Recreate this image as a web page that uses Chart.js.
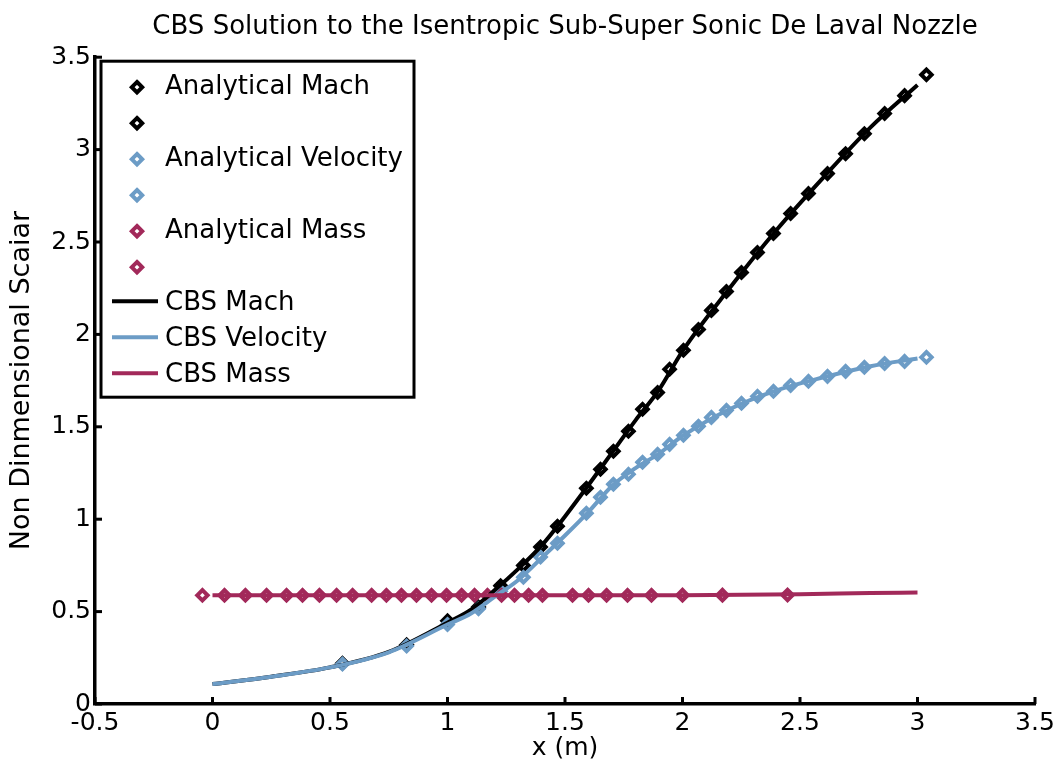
<!DOCTYPE html>
<html>
<head>
<meta charset="utf-8">
<title>CBS Solution - De Laval Nozzle</title>
<script src="https://cdn.jsdelivr.net/npm/chart.js@4.4.1/dist/chart.umd.min.js"></script>
<style>
  html, body { margin: 0; padding: 0; background: #fff; }
  canvas { display: block; }
</style>
</head>
<body>
<canvas id="nozzleChart" width="1063" height="772"></canvas>
<script>
// analytical samples, Mach and velocity share the same stations
const analyticalX = [0.553, 0.826, 1.000, 1.132, 1.226, 1.323, 1.396, 1.468, 1.591, 1.651,
                     1.706, 1.770, 1.830, 1.894, 1.945, 2.004, 2.068, 2.123, 2.187, 2.251,
                     2.319, 2.387, 2.460, 2.536, 2.617, 2.694, 2.774, 2.860, 2.945, 3.038];
const analyticalMach = [0.22, 0.32, 0.45, 0.525, 0.64, 0.75, 0.85, 0.962, 1.168, 1.27,
                        1.368, 1.476, 1.595, 1.686, 1.811, 1.914, 2.027, 2.13, 2.232, 2.335,
                        2.443, 2.546, 2.654, 2.762, 2.87, 2.978, 3.086, 3.195, 3.292, 3.405];
const analyticalVelocity = [0.216, 0.314, 0.43, 0.515, 0.61, 0.686, 0.795, 0.87, 1.032, 1.119,
                            1.189, 1.243, 1.308, 1.351, 1.405, 1.454, 1.503, 1.551, 1.589, 1.627,
                            1.665, 1.692, 1.724, 1.746, 1.773, 1.80, 1.822, 1.843, 1.854, 1.876];

// mass flow samples sit on their own stations
const massX = [-0.043, 0.051, 0.140, 0.230, 0.315, 0.383, 0.455, 0.528, 0.596, 0.677,
               0.740, 0.804, 0.868, 0.932, 0.996, 1.060, 1.115, 1.170, 1.230, 1.285,
               1.345, 1.404, 1.532, 1.600, 1.677, 1.766, 1.868, 2.000, 2.170, 2.447];
const analyticalMass = [0.588, 0.588, 0.588, 0.588, 0.588, 0.588, 0.588, 0.588, 0.588, 0.588,
                        0.588, 0.588, 0.588, 0.588, 0.588, 0.588, 0.588, 0.588, 0.588, 0.588,
                        0.588, 0.588, 0.588, 0.588, 0.588, 0.588, 0.588, 0.589, 0.589, 0.590];

// CBS solver output
const cbsX = [0, 0.25, 0.5, 0.75, 1.0, 1.1, 1.2, 1.3, 1.4, 1.5,
              1.6, 1.7, 1.8, 1.9, 2.0, 2.2, 2.4, 2.6, 2.8, 3.0];
const cbsMach = [0.108, 0.148, 0.198, 0.282, 0.44, 0.51, 0.615, 0.73, 0.857, 1.015,
                 1.185, 1.36, 1.535, 1.70, 1.91, 2.25, 2.565, 2.85, 3.12, 3.35];
const cbsVelocity = [0.108, 0.148, 0.198, 0.28, 0.43, 0.49, 0.58, 0.67, 0.79, 0.912,
                     1.04, 1.18, 1.276, 1.355, 1.45, 1.595, 1.697, 1.768, 1.828, 1.87];
const cbsMassX = [0, 0.5, 1.0, 1.5, 2.0, 2.5, 2.8, 3.0];
const cbsMass = [0.588, 0.588, 0.588, 0.588, 0.589, 0.594, 0.600, 0.603];

const xTickValues = [-0.5, 0, 0.5, 1, 1.5, 2, 2.5, 3, 3.5];
const yTickValues = [0, 0.5, 1, 1.5, 2, 2.5, 3, 3.5];

const FONT = "'DejaVu Sans', sans-serif";
const BLACK = '#000000';
const BLUE = '#6c9cc6';
const RED = '#a2295a';

const pts = (xs, ys) => xs.map((x, i) => ({ x: x, y: ys[i] }));

// hollow diamonds with a heavy edge; the solver curves run over them
const marker = (label, xs, ys, color, order) => ({
    label: label,
    data: pts(xs, ys),
    showLine: false,
    pointStyle: 'rectRot',
    pointRadius: 5.2,
    pointHoverRadius: 5.2,
    pointBorderWidth: 4,
    pointBorderColor: color,
    pointBackgroundColor: 'rgba(255,255,255,0)',
    borderColor: color,
    order: order
});

const curve = (label, xs, ys, color, order) => ({
    label: label,
    data: pts(xs, ys),
    borderColor: color,
    borderWidth: 4,
    pointRadius: 0,
    cubicInterpolationMode: 'monotone',
    order: order
});

function diamond(ctx, x, y, r) {
    ctx.beginPath();
    ctx.moveTo(x, y - r);
    ctx.lineTo(x + r, y);
    ctx.lineTo(x, y + r);
    ctx.lineTo(x - r, y);
    ctx.closePath();
}

// inward tick stubs + boxed legend in the upper left corner
const axesAndLegend = {
    id: 'axesAndLegend',
    afterDraw(chart) {
        const { ctx, chartArea, scales } = chart;
        ctx.save();
        ctx.fillStyle = BLACK;
        scales.x.ticks.forEach(t => {
            const px = scales.x.getPixelForValue(t.value);
            ctx.fillRect(px - 1.5, chartArea.bottom - 7, 3, 7);
        });
        scales.y.ticks.forEach(t => {
            const py = scales.y.getPixelForValue(t.value);
            ctx.fillRect(chartArea.left, py - 1.5, 7, 3);
        });

        const x0 = chartArea.left + 6, y0 = chartArea.top + 4;
        ctx.fillStyle = '#fff';
        ctx.fillRect(x0, y0, 313, 336);
        ctx.lineWidth = 3;
        ctx.strokeStyle = BLACK;
        ctx.strokeRect(x0, y0, 313, 336);

        ctx.font = '26px ' + FONT;
        ctx.textBaseline = 'middle';
        let row = 0;
        chart.data.datasets.forEach(ds => {
            const rows = ds.showLine === false ? [ds.label, ''] : [ds.label];
            rows.forEach(text => {
                const y = y0 + 26 + row * 36;
                if (ds.showLine === false) {
                    diamond(ctx, x0 + 36, y, ds.pointRadius);
                    ctx.lineWidth = ds.pointBorderWidth;
                    ctx.strokeStyle = ds.pointBorderColor;
                    ctx.stroke();
                } else {
                    ctx.beginPath();
                    ctx.moveTo(x0 + 11, y - 2);
                    ctx.lineTo(x0 + 57, y - 2);
                    ctx.lineWidth = ds.borderWidth;
                    ctx.strokeStyle = ds.borderColor;
                    ctx.stroke();
                }
                ctx.fillStyle = BLACK;
                ctx.fillText(text, x0 + 64, y);
                row++;
            });
        });
        ctx.restore();
    }
};

new Chart(document.getElementById('nozzleChart'), {
    type: 'line',
    data: {
        datasets: [
            marker('Analytical Mach', analyticalX, analyticalMach, BLACK, 6),
            marker('Analytical Velocity', analyticalX, analyticalVelocity, BLUE, 5),
            marker('Analytical Mass', massX, analyticalMass, RED, 4),
            curve('CBS Mach', cbsX, cbsMach, BLACK, 3),
            curve('CBS Velocity', cbsX, cbsVelocity, BLUE, 2),
            curve('CBS Mass', cbsMassX, cbsMass, RED, 1)
        ]
    },
    options: {
        responsive: false,
        animation: false,
        layout: { padding: { left: 0, right: 28, top: 0, bottom: 0 } },
        plugins: {
            legend: { display: false },
            tooltip: { enabled: false },
            title: {
                display: true,
                text: 'CBS Solution to the Isentropic Sub-Super Sonic De Laval Nozzle',
                color: BLACK,
                font: { family: FONT, size: 26, weight: 'normal' },
                padding: { top: 12, bottom: 14 },
                fullSize: false
            }
        },
        scales: {
            x: {
                type: 'linear',
                min: -0.5,
                max: 3.5,
                afterBuildTicks: s => { s.ticks = xTickValues.map(v => ({ value: v })); },
                afterFit: s => { s.height = 68; },
                grid: { display: false, drawTicks: false },
                border: { display: true, color: BLACK, width: 3.5 },
                ticks: { color: BLACK, font: { family: FONT, size: 25 }, padding: 4, maxRotation: 0,
                         callback: v => String(v) },
                title: { display: true, text: 'x (m)', color: BLACK,
                         font: { family: FONT, size: 25 }, padding: { bottom: 9 } }
            },
            y: {
                type: 'linear',
                min: 0,
                max: 3.5,
                afterBuildTicks: s => { s.ticks = yTickValues.map(v => ({ value: v })); },
                afterFit: s => { s.width = 95; },
                grid: { display: false, drawTicks: false },
                border: { display: true, color: BLACK, width: 3.5 },
                ticks: { color: BLACK, font: { family: FONT, size: 25 }, padding: 4,
                         callback: v => String(v) },
                title: { display: true, text: 'Non Dinmensional Scaiar', color: BLACK,
                         font: { family: FONT, size: 27 }, padding: { top: 6 } }
            }
        }
    },
    plugins: [axesAndLegend]
});
</script>
</body>
</html>
